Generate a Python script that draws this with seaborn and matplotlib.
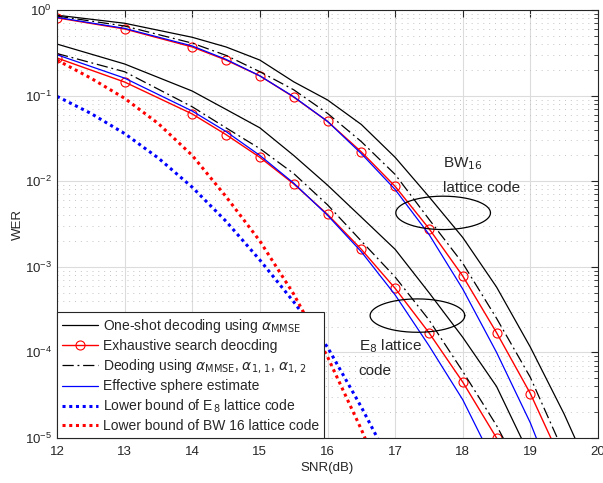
# WER vs SNR for E8 and BW16 lattice codes
import matplotlib
matplotlib.use("Agg")
import matplotlib.pyplot as plt
import seaborn as sns
import numpy as np

# SNR grid of the simulated points (dB)
snr_bw16 = [12, 13, 14, 14.5, 15, 15.5, 16, 16.5, 17, 17.5, 18, 18.5, 19, 19.5, 20]
snr_e8 = [12, 13, 14, 14.5, 15, 15.5, 16, 16.5, 17, 17.5, 18, 18.5, 19]
snr_lb = [12, 12.5, 13, 13.5, 14, 14.5, 15, 15.5, 16, 16.5, 17]

# BW16 lattice code
bw16_oneshot = [0.87, 0.70, 0.48, 0.37, 0.26, 0.145, 0.089, 0.046, 0.019, 0.0066,
                0.0022, 5.8e-4, 1.15e-4, 1.9e-5, 2.5e-6]
bw16_exhaustive = [0.81, 0.60, 0.37, 0.26, 0.17, 0.096, 0.050, 0.022, 0.0087, 0.0028,
                   7.8e-4, 1.7e-4, 3.3e-5, 4.6e-6, 5e-7]
bw16_deoding = [0.85, 0.65, 0.41, 0.295, 0.19, 0.117, 0.062, 0.029, 0.012, 0.0036,
                0.0011, 2.5e-4, 5.1e-5, 6.6e-6, 7e-7]
bw16_sphere = [0.82, 0.61, 0.38, 0.265, 0.17, 0.097, 0.050, 0.021, 0.0080, 0.0024,
               5.5e-4, 1.0e-4, 1.5e-5, 1.5e-6, 1e-7]

# E8 lattice code
e8_oneshot = [0.40, 0.234, 0.113, 0.069, 0.042, 0.020, 0.0090, 0.0038, 0.0016, 5.0e-4,
              1.5e-4, 4.0e-5, 6.0e-6]
e8_exhaustive = [0.275, 0.144, 0.061, 0.035, 0.019, 0.0093, 0.0041, 0.0016, 5.6e-4,
                 1.7e-4, 4.5e-5, 1.0e-5, 1.5e-6]
e8_deoding = [0.31, 0.19, 0.074, 0.042, 0.024, 0.0123, 0.0053, 0.0020, 7.6e-4, 2.4e-4,
              6.0e-5, 1.4e-5, 2.5e-6]
e8_sphere = [0.30, 0.16, 0.066, 0.038, 0.020, 0.0095, 0.0040, 0.0015, 4.7e-4, 1.2e-4,
             2.8e-5, 4.5e-6, 5e-7]

# lower bounds
lb_e8 = [0.098, 0.062, 0.036, 0.0186, 0.0085, 0.0034, 0.0012, 3.9e-4, 1.15e-4, 2.3e-5, 4e-6]
lb_bw16 = [0.26, 0.16, 0.093, 0.047, 0.020, 0.0066, 0.002, 4.8e-4, 8.9e-5, 1.26e-5, 1.5e-6]

labels = [r"One-shot decoding using $\alpha_{\rm MMSE}$",
          "Exhaustive search deocding",
          r"Deoding using $\alpha_{\rm MMSE}$, $\alpha_{1,\,1}$, $\alpha_{1,\,2}$",
          "Effective sphere estimate",
          r"Lower bound of E$_{\,8}$ lattice code",
          "Lower bound of BW 16 lattice code"]

sns.set_style("white")
plt.rcParams["font.family"] = ["Liberation Sans", "DejaVu Sans"]
plt.rcParams["mathtext.fontset"] = "dejavusans"

fig = plt.figure(figsize=(6.03, 4.83), dpi=100)
ax = fig.add_axes([57 / 603, 45 / 483, 541 / 603, 428 / 483])

dashdot = (0, (9, 3, 1.5, 3))
circ = dict(marker="o", markersize=6.5, markerfacecolor="none", markeredgecolor="red",
            markeredgewidth=0.8)

# one-shot
sns.lineplot(x=snr_bw16, y=bw16_oneshot, ax=ax, color="black", lw=0.9, label=labels[0])
sns.lineplot(x=snr_e8, y=e8_oneshot, ax=ax, color="black", lw=0.9)
# exhaustive
sns.lineplot(x=snr_bw16, y=bw16_exhaustive, ax=ax, color="red", lw=1.0, label=labels[1], **circ)
sns.lineplot(x=snr_e8, y=e8_exhaustive, ax=ax, color="red", lw=1.0, **circ)
# alpha candidates
sns.lineplot(x=snr_bw16, y=bw16_deoding, ax=ax, color="black", lw=0.9, linestyle=dashdot,
             label=labels[2])
sns.lineplot(x=snr_e8, y=e8_deoding, ax=ax, color="black", lw=0.9, linestyle=dashdot)
# effective sphere
sns.lineplot(x=snr_bw16, y=bw16_sphere, ax=ax, color="blue", lw=0.9, label=labels[3])
sns.lineplot(x=snr_e8, y=e8_sphere, ax=ax, color="blue", lw=0.9)
# lower bounds
sns.lineplot(x=snr_lb, y=lb_e8, ax=ax, color="blue", lw=2.2, linestyle=(0, (1, 1.2)),
             label=labels[4])
sns.lineplot(x=snr_lb, y=lb_bw16, ax=ax, color="red", lw=2.2, linestyle=(0, (1, 1.2)),
             label=labels[5])

# ellipses around the curve groups (centre in dB / log10 WER)
t = np.linspace(0, 2 * np.pi, 200)
for cx, cy in [(17.71, -2.37), (17.33, -3.57)]:
    ax.plot(cx + 0.70 * np.cos(t), 10 ** (cy + 0.195 * np.sin(t)), color="black", lw=0.9)

ax.text(17.71, 10 ** -1.834, r"BW$_{16}$", fontsize=11, va="baseline", ha="left")
ax.text(17.71, 10 ** -2.126, "lattice code", fontsize=11, va="baseline", ha="left")
ax.text(16.46, 10 ** -3.97, r"E$_8$ lattice", fontsize=11, va="baseline", ha="left")
ax.text(16.46, 10 ** -4.26, "code", fontsize=11, va="baseline", ha="left")

ax.set_yscale("log")
ax.set_xlim(12, 20)
ax.set_ylim(1e-5, 1)
ax.set_xticks(range(12, 21))
ax.set_xlabel("SNR(dB)", fontsize=9.5, color="#262626", labelpad=3)
ax.set_ylabel("WER", fontsize=9.5, color="#262626", labelpad=1)

ax.grid(True, which="major", color="#dcdcdc", lw=0.8)
ax.yaxis.grid(True, which="minor", color="#c4c4c4", lw=0.7, linestyle=(0, (1, 5)))
ax.set_axisbelow(True)
ax.tick_params(which="both", direction="in", top=True, right=True, colors="#262626",
               labelsize=9.5)
ax.tick_params(which="major", length=5)
ax.tick_params(which="minor", length=3)
ax.tick_params(axis="x", pad=6)
for s in ax.spines.values():
    s.set_color("#262626")
    s.set_linewidth(0.8)

leg = ax.legend(loc="lower left", borderaxespad=0, fontsize=10, fancybox=False,
                framealpha=1, edgecolor="#262626", handlelength=2.6, handletextpad=0.35,
                labelspacing=0.3, borderpad=0.35)
leg.get_frame().set_linewidth(0.8)

fig.savefig("out.png", dpi=100)
